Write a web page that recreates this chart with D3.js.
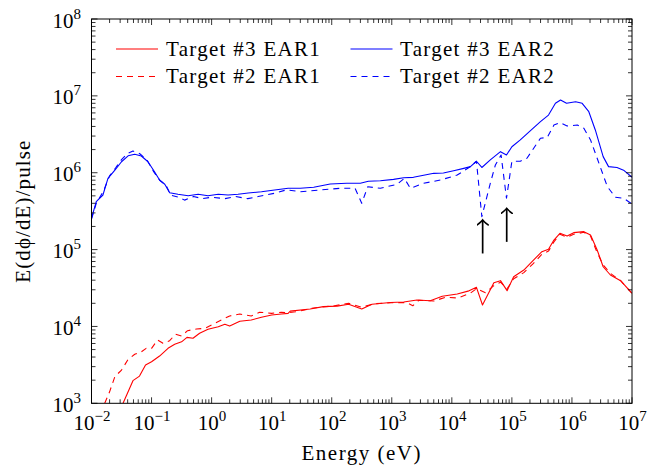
<!DOCTYPE html>
<html>
<head>
<meta charset="utf-8">
<script src="https://cdn.jsdelivr.net/npm/d3@7"></script>
</head>
<body style="margin:0">
<svg id="chart" width="647" height="467" style="font-family: 'Liberation Serif'"></svg>
<script>
// ---------- data ----------
const xTickExps = [-2, -1, 0, 1, 2, 3, 4, 5, 6, 7];
const yTickExps = [3, 4, 5, 6, 7, 8];

const legendLabels = ["Target #3 EAR1", "Target #2 EAR1", "Target #3 EAR2", "Target #2 EAR2"];

// Target #3 EAR2 (blue solid)
const t3ear2E = [0.01,0.012,0.0155,0.0188,0.0245,0.0316,0.0407,0.0525,0.0676,0.0871,0.112,0.136,0.166,0.2,0.275,0.407,0.596,0.871,1.29,1.88,2.75,4.07,6.76,11.2,18.8,29.9,50.1,94.4,178,299,407,646,1070,1580,2290,3390,5010,7240,1.07e4,1.58e4,2.04e4,2.57e4,3.16e4,4.37e4,6.46e4,8.13e4,1.0e5,1.38e5,2.04e5,2.99e5,4.07e5,5.31e5,6.46e5,8.13e5,1.15e6,1.48e6,1.91e6,2.45e6,3.31e6,4.07e6,5.62e6,7.24e6,1e7];
const t3ear2V = [2.55e5,4.2e5,5.13e5,8.45e5,1.08e6,1.39e6,1.66e6,1.74e6,1.65e6,1.39e6,1.03e6,8.04e5,7.08e5,5.5e5,5.25e5,5.01e5,5.25e5,5.01e5,5.25e5,5.13e5,5.25e5,5.45e5,5.66e5,5.96e5,6.27e5,6.27e5,6.46e5,7.13e5,7.28e5,7.28e5,7.76e5,7.87e5,8.2e5,8.61e5,8.71e5,9.25e5,9.82e5,9.91e5,1.06e6,1.14e6,1.2e6,1.41e6,1.17e6,1.47e6,1.88e6,1.7e6,2.18e6,2.67e6,3.52e6,4.62e6,5.62e6,8.0e6,8.83e6,8.0e6,8.39e6,8.0e6,6.22e6,3.6e6,1.62e6,1.2e6,1.17e6,1.08e6,8.71e5];

// Target #2 EAR2 (blue dashed)
const t2ear2E = [0.01,0.012,0.0158,0.02,0.0251,0.0316,0.0398,0.049,0.063,0.083,0.107,0.138,0.174,0.209,0.282,0.355,0.5,0.71,1.0,1.66,2.5,4.0,5.96,11.2,17.8,29.9,64.6,138,245,316,398,646,1230,1620,2040,3390,6460,1.23e4,2.04e4,2.57e4,3.16e4,4.37e4,5.31e4,6.61e4,8.13e4,1.0e5,1.38e5,1.78e5,2.99e5,3.89e5,5.01e5,6.31e5,8.32e5,1.23e6,1.58e6,2.04e6,2.63e6,3.89e6,5.31e6,7.24e6,1e7];
const t2ear2V = [2.5e5,4.0e5,5.75e5,9.1e5,1.15e6,1.48e6,1.78e6,1.92e6,1.78e6,1.48e6,1.05e6,7.9e5,6.9e5,5.1e5,4.8e5,4.4e5,4.9e5,4.6e5,4.8e5,4.6e5,4.9e5,4.6e5,4.9e5,5.4e5,6.0e5,5.66e5,5.96e5,6.27e5,6.27e5,4.0e5,6.58e5,6.27e5,7.08e5,8.45e5,6.27e5,7.28e5,8.04e5,9.33e5,1.2e6,1.41e6,2.68e5,7.28e5,1.26e6,1.7e6,4.65e5,1.41e6,1.41e6,1.54e6,2.81e6,2.88e6,4.17e6,4.47e6,4.06e6,4.17e6,3.78e6,2.67e6,1.54e6,6.58e5,4.79e5,4.65e5,3.92e5];

// Target #3 EAR1 (red solid)
const t3ear1E = [0.0335,0.0407,0.049,0.063,0.0794,0.1,0.136,0.188,0.243,0.316,0.389,0.49,0.631,0.871,1.29,1.66,2.0,2.95,4.57,6.76,10,14.5,18.8,20.4,43.7,72.4,123,191,316,468,944,1580,2630,4370,6920,1.23e4,1.86e4,2.57e4,3.24e4,5.01e4,6.46e4,8.32e4,1.07e5,1.58e5,2.29e5,3.16e5,4.07e5,5.01e5,6.31e5,8.32e5,1.07e6,1.58e6,2.04e6,2.63e6,3.31e6,4.37e6,6.46e6,1e7];
const t3ear1V = [1.0e3,1.41e3,1.97e3,2.26e3,3.16e3,3.47e3,4.12e3,5.19e3,5.86e3,6.31e3,7.21e3,7.01e3,8.15e3,9.18e3,9.93e3,1.07e4,1.01e4,1.17e4,1.21e4,1.32e4,1.41e4,1.45e4,1.48e4,1.58e4,1.69e4,1.81e4,1.84e4,1.94e4,1.69e4,1.94e4,2.05e4,2.08e4,2.21e4,2.16e4,2.47e4,2.64e4,2.88e4,3.23e4,1.9e4,3.71e4,3.94e4,2.92e4,4.44e4,5.42e4,7.31e4,9.4e4,1.01e5,1.33e5,1.63e5,1.5e5,1.66e5,1.71e5,1.55e5,9.89e4,5.98e4,4.67e4,3.94e4,2.7e4];

// Target #2 EAR1 (red dashed)
const t2ear1E = [0.0166,0.02,0.0245,0.0316,0.0407,0.0525,0.0676,0.0813,0.1,0.126,0.155,0.2,0.251,0.316,0.398,0.562,0.776,1.06,1.45,2.0,2.95,4.57,6.31,10,14.5,18.8,25.1,50.1,112,191,316,501,1000,1780,2240,2820,5010,7940,1.26e4,2.0e4,2.57e4,3.63e4,5.01e4,6.46e4,8.32e4,1.07e5,1.58e5,2.29e5,3.16e5,4.07e5,5.01e5,6.31e5,8.32e5,1.07e6,1.58e6,2.04e6,2.63e6,3.31e6,4.37e6,6.46e6,1e7];
const t2ear1V = [1.0e3,1.41e3,2.22e3,2.71e3,3.73e3,4.34e3,4.68e3,5.19e3,5.19e3,6.67e3,6.03e3,6.52e3,7.94e3,7.52e3,8.81e3,9.27e3,9.46e3,1.07e4,1.21e4,1.37e4,1.45e4,1.37e4,1.53e4,1.48e4,1.53e4,1.51e4,1.55e4,1.74e4,1.86e4,2.0e4,1.78e4,1.97e4,2.04e4,2.04e4,1.86e4,2.19e4,2.14e4,2.4e4,2.34e4,2.69e4,3.09e4,2.75e4,3.39e4,3.76e4,3.09e4,4.17e4,5.01e4,6.61e4,8.71e4,9.55e4,1.26e5,1.58e5,1.45e5,1.58e5,1.68e5,1.5e5,9.12e4,6.31e4,4.9e4,3.94e4,2.7e4];

// arrows marking the dips (energy, tail value, tip value)
const arrowE = [3.26e4, 8.2e4];
const arrowTail = [8.9e4, 1.26e5];
const arrowTip = [2.43e5, 3.44e5];

// ---------- layout ----------
const FONT = "Liberation Serif";
const svg = d3.select("#chart");
const L = 91.5, R = 632, T = 19, B = 403.3;
const x = d3.scaleLog().domain([1e-2, 1e7]).range([L, R]);
const y = d3.scaleLog().domain([1e3, 1e8]).range([B, T]);

const FS = 21, SUP = 15;

svg.append("defs").append("clipPath").attr("id", "clip")
  .append("rect").attr("x", L).attr("y", T).attr("width", R - L).attr("height", B - T);

// series
const series = [
  { E: t3ear2E, V: t3ear2V, color: "#0000ff", dash: null },
  { E: t2ear2E, V: t2ear2V, color: "#0000ff", dash: "6,5" },
  { E: t3ear1E, V: t3ear1V, color: "#ff0000", dash: null },
  { E: t2ear1E, V: t2ear1V, color: "#ff0000", dash: "6,5" }
];
const line = d3.line().x(d => x(d[0])).y(d => y(d[1]));
const gLines = svg.append("g").attr("clip-path", "url(#clip)");
series.forEach(s => {
  gLines.append("path")
    .datum(s.E.map((e, i) => [e, s.V[i]]))
    .attr("d", line)
    .attr("fill", "none")
    .attr("stroke", s.color)
    .attr("stroke-width", 1.1)
    .attr("stroke-linejoin", "round")
    .attr("stroke-dasharray", s.dash);
});

// arrows
svg.append("defs").append("marker")
  .attr("id", "arrowhead").attr("viewBox", "-6 -6 12 12")
  .attr("refX", 0).attr("refY", 0).attr("markerWidth", 12).attr("markerHeight", 12)
  .attr("markerUnits", "userSpaceOnUse").attr("orient", "auto")
  .append("path").attr("d", "M-5,-5.5 Q-1.5,-1 0,0 Q-1.5,1 -5,5.5")
  .attr("fill", "none").attr("stroke", "#000").attr("stroke-width", 1.6).attr("stroke-linecap", "round");
arrowE.forEach((e, i) => {
  svg.append("line")
    .attr("x1", x(e)).attr("x2", x(e))
    .attr("y1", y(arrowTail[i])).attr("y2", y(arrowTip[i]))
    .attr("stroke", "#000").attr("stroke-width", 1.7)
    .attr("marker-end", "url(#arrowhead)");
});

// frame
svg.append("rect").attr("x", L).attr("y", T).attr("width", R - L).attr("height", B - T)
  .attr("fill", "none").attr("stroke", "#000").attr("stroke-width", 1);

// ticks
const MAJ = 6, MIN = 4;
const gTicks = svg.append("g").attr("stroke", "#000").attr("stroke-width", 0.8);
function minorsBetween(lo, hi) {
  const arr = [];
  for (let p = lo; p < hi; p++) for (let k = 2; k <= 9; k++) arr.push(k * Math.pow(10, p));
  return arr;
}
const xMinor = minorsBetween(-2, 7), yMinor = minorsBetween(3, 8);
xTickExps.forEach(p => {
  const px = x(Math.pow(10, p));
  gTicks.append("line").attr("x1", px).attr("x2", px).attr("y1", B).attr("y2", B - MAJ);
  gTicks.append("line").attr("x1", px).attr("x2", px).attr("y1", T).attr("y2", T + MAJ);
});
xMinor.forEach(v => {
  const px = x(v);
  gTicks.append("line").attr("x1", px).attr("x2", px).attr("y1", B).attr("y2", B - MIN);
  gTicks.append("line").attr("x1", px).attr("x2", px).attr("y1", T).attr("y2", T + MIN);
});
yTickExps.forEach(p => {
  const py = y(Math.pow(10, p));
  gTicks.append("line").attr("y1", py).attr("y2", py).attr("x1", L).attr("x2", L + MAJ);
  gTicks.append("line").attr("y1", py).attr("y2", py).attr("x1", R).attr("x2", R - MAJ);
});
yMinor.forEach(v => {
  const py = y(v);
  gTicks.append("line").attr("y1", py).attr("y2", py).attr("x1", L).attr("x2", L + MIN);
  gTicks.append("line").attr("y1", py).attr("y2", py).attr("x1", R).attr("x2", R - MIN);
});

// all text in one group carrying the font
const gText = svg.append("g").attr("font-family", FONT).style("font-family", FONT);

// tick labels
function powLabel(sel, p) {
  sel.append("tspan").attr("font-size", FS).text("10");
  sel.append("tspan").attr("font-size", SUP).attr("dy", -9)
    .text(p < 0 ? "\u2212" + Math.abs(p) : String(p));
}
xTickExps.forEach(p => {
  const t = gText.append("text").attr("x", x(Math.pow(10, p)) + 0.5).attr("y", 430)
    .attr("text-anchor", "middle").attr("font-size", FS).attr("font-family", FONT);
  powLabel(t, p);
});
yTickExps.forEach(p => {
  const t = gText.append("text").attr("x", 81).attr("y", y(Math.pow(10, p)) + 8.5)
    .attr("text-anchor", "end").attr("font-size", FS).attr("font-family", FONT);
  powLabel(t, p);
});

// axis titles
gText.append("text").attr("x", (L + R) / 2).attr("y", 460)
  .attr("text-anchor", "middle").attr("font-size", FS).attr("font-family", FONT)
  .attr("letter-spacing", 1.5)
  .text("Energy (eV)");
gText.append("text")
  .attr("transform", `translate(29.5, ${(T + B) / 2}) rotate(-90)`)
  .attr("text-anchor", "middle").attr("font-size", FS).attr("font-family", FONT)
  .attr("letter-spacing", 1.1)
  .text("E(d\u03D5/dE)/pulse");

// legend
const legendPos = [
  { lx: 116, ly: 49, tx: 166, ty: 55.5 },
  { lx: 116, ly: 76.5, tx: 166, ty: 82.5 },
  { lx: 350.5, ly: 49, tx: 400, ty: 55.5 },
  { lx: 350.5, ly: 76.5, tx: 400, ty: 82.5 }
];
const legendSeries = [series[2], series[3], series[0], series[1]];
legendLabels.forEach((lab, i) => {
  const p = legendPos[i], s = legendSeries[i];
  svg.append("line").attr("x1", p.lx).attr("x2", p.lx + 42).attr("y1", p.ly).attr("y2", p.ly)
    .attr("stroke", s.color).attr("stroke-width", 1.1).attr("stroke-dasharray", s.dash);
  gText.append("text").attr("x", p.tx).attr("y", p.ty).attr("font-size", FS)
    .attr("font-family", FONT).attr("letter-spacing", 1.3).text(lab);
});
</script>
</body>
</html>
